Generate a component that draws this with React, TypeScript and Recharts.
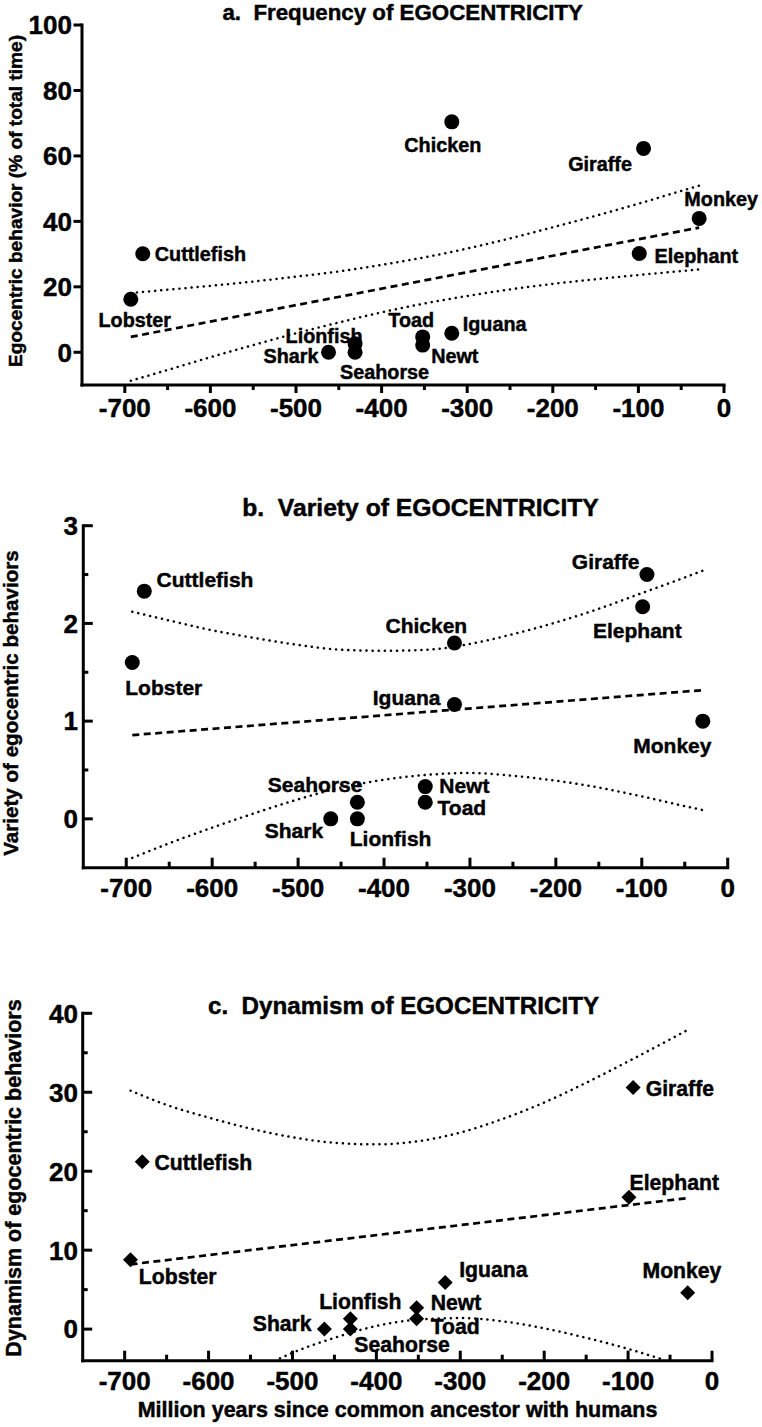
import React from 'react';
import { ComposedChart, XAxis, YAxis, Scatter, Line } from 'recharts';

const FONT = '"Liberation Sans", Arial, Helvetica, sans-serif';

// species and time since common ancestor with humans (million years)
const species = ['Lobster', 'Cuttlefish', 'Shark', 'Lionfish', 'Seahorse', 'Toad', 'Newt', 'Iguana', 'Chicken', 'Elephant', 'Giraffe', 'Monkey'];
const divergence = [-693, -679, -462, -431, -431, -352, -352, -318, -318, -99, -94, -29];

// a. frequency (% of total time), b. variety, c. dynamism (no chicken)
const frequency = [16.2, 30.1, 0, 2.6, 0, 4.7, 2.2, 5.8, 70.4, 30.2, 62.3, 40.9];
const variety = [1.6, 2.33, 0, 0, 0.17, 0.17, 0.33, 1.17, 1.8, 2.17, 2.5, 1.0];
const dynamism = [8.8, 21.2, 0, 1.3, 0, 1.3, 2.7, 5.9, null, 16.7, 30.6, 4.6];

// regression lines (end points) and confidence bands
const fitX = [-693, -29];
const freqFit = [4.7, 38.1];
const varFit = [0.857, 1.317];
const dynFit = [8.2, 16.6];

const bandX = [-693, -650, -600, -550, -500, -450, -400, -350, -300, -250, -200, -150, -100, -50, -29];
const freqUpper = [18.1, 19.1, 20.3, 21.6, 23.1, 24.7, 26.7, 29.0, 31.7, 34.8, 38.2, 41.7, 45.4, 49.3, 50.9];
const freqLower = [-8.7, -5.4, -1.5, 2.2, 5.8, 9.1, 12.2, 14.9, 17.2, 19.2, 20.9, 22.3, 23.6, 24.8, 25.3];
const varUpper = [2.12, 2.03, 1.93, 1.85, 1.78, 1.73, 1.72, 1.73, 1.79, 1.89, 2.01, 2.15, 2.31, 2.47, 2.54];
const varLower = [-0.4, -0.25, -0.09, 0.06, 0.2, 0.32, 0.4, 0.45, 0.47, 0.44, 0.39, 0.32, 0.23, 0.13, 0.09];
const dynUpper = [30.2, 28.4, 26.8, 25.4, 24.3, 23.6, 23.4, 23.8, 24.9, 26.6, 28.7, 31.2, 33.9, 36.7, 37.9];
// only the part of the lower band c that lies above the axis floor is visible
const dynLowerX = [-515, -500, -450, -400, -350, -300, -250, -200, -150, -100, -57];
const dynLower = [-3.7, -3.0, -1.1, 0.4, 1.2, 1.4, 1.0, 0.1, -1.1, -2.5, -3.9];

// ticks
const xTicks = [-700, -650, -600, -550, -500, -450, -400, -350, -300, -250, -200, -150, -100, -50, 0];
const freqTicks = [0, 20, 40, 60, 80, 100];
const varTicks = [0, 0.5, 1, 1.5, 2, 2.5, 3];
const dynTicks = [0, 5, 10, 15, 20, 25, 30, 35, 40];

// label placement next to each marker: [dx, dy, anchor]
type Place = [number, number, 'start' | 'middle' | 'end'];
const placeA: Record<string, Place> = {
  Cuttlefish: [12, 0, 'start'], Lobster: [4, 21, 'middle'], Lionfish: [-31, -8, 'middle'],
  Shark: [-10, 3.5, 'end'], Seahorse: [29.5, 19.5, 'middle'], Toad: [-11.5, -17.5, 'middle'],
  Newt: [8.5, 10.7, 'start'], Iguana: [11, -9.3, 'start'], Chicken: [-9, 23.3, 'middle'],
  Giraffe: [-11.6, 15.7, 'end'], Monkey: [22, -19.3, 'middle'], Elephant: [15.3, 2.5, 'start'],
};
const placeB: Record<string, Place> = {
  Cuttlefish: [12.3, -11.7, 'start'], Lobster: [31.5, 25, 'middle'], Seahorse: [-42.3, -17.7, 'middle'],
  Shark: [-7.6, 11.8, 'end'], Lionfish: [33.2, 19.3, 'middle'], Newt: [14, -1.5, 'start'],
  Toad: [12.3, 5.5, 'start'], Iguana: [-14, -6.8, 'end'], Chicken: [12.7, -17.7, 'end'],
  Giraffe: [-7.4, -13.2, 'end'], Elephant: [-5.3, 23.3, 'middle'], Monkey: [-30.4, 24.8, 'middle'],
};
const placeC: Record<string, Place> = {
  Cuttlefish: [12.3, 0.8, 'start'], Lobster: [8.3, 17, 'start'], Lionfish: [10, -17.6, 'middle'],
  Shark: [-12.7, -6, 'end'], Seahorse: [4, 15, 'start'], Newt: [14, -5.5, 'start'],
  Toad: [14, 7.2, 'start'], Iguana: [14, -12.7, 'start'], Giraffe: [12.6, 1, 'start'],
  Elephant: [0.6, -15.2, 'start'], Monkey: [-5.7, -22.7, 'middle'],
};

const points = (vals: (number | null)[]) =>
  species
    .map((name, i) => ({ name, x: divergence[i], y: vals[i] }))
    .filter((d) => d.y !== null);
const curve = (xs: number[], ys: number[]) => xs.map((x, i) => ({ x, y: ys[i] }));

const heavy = { stroke: '#000', strokeWidth: 0.45 };

function makeShape(place: Record<string, Place>, diamond: boolean, fontSize: number) {
  return (props: any) => {
    const { cx, cy, payload } = props;
    const p = place[payload.name];
    return (
      <g>
        {diamond ? (
          <polygon points={`${cx},${cy - 7.5} ${cx + 7.5},${cy} ${cx},${cy + 7.5} ${cx - 7.5},${cy}`} fill="#000" />
        ) : (
          <circle cx={cx} cy={cy} r={7.5} fill="#000" />
        )}
        <text x={cx + p[0]} y={cy + p[1]} dy="0.36em" textAnchor={p[2]} fontSize={fontSize}
          fontWeight="bold" fontFamily={FONT} fill="#000" {...heavy}>{payload.name}</text>
      </g>
    );
  };
}

function makeXTick(axisY: number, inward: boolean, baseline: number) {
  return (props: any) => {
    const { x, payload } = props;
    const major = payload.value % 100 === 0;
    const len = major ? (inward ? 10 : 8) : (inward ? 6 : 5);
    return (
      <g>
        <line x1={x} x2={x} y1={axisY} y2={axisY + (inward ? -len : len)} stroke="#000" strokeWidth={3} />
        {major && (
          <text x={x} y={axisY + baseline} textAnchor="middle" fontSize={26} fontWeight="bold"
            fontFamily={FONT} fill="#000" {...heavy}>{payload.value}</text>
        )}
      </g>
    );
  };
}

function makeYTick(axisX: number, inward: boolean, labelX: number, majorStep: number) {
  return (props: any) => {
    const { y, payload } = props;
    const major = Math.abs(payload.value / majorStep - Math.round(payload.value / majorStep)) < 1e-6;
    const len = major ? (inward ? 9.5 : 8.5) : 5;
    return (
      <g>
        <line x1={axisX} x2={axisX + (inward ? len : -len)} y1={y} y2={y} stroke="#000" strokeWidth={3} />
        {major && (
          <text x={labelX} y={y} dy="0.36em" textAnchor="end" fontSize={26} fontWeight="bold"
            fontFamily={FONT} fill="#000" {...heavy}>{payload.value}</text>
        )}
      </g>
    );
  };
}

const axisLine = { stroke: '#000', strokeWidth: 3, strokeLinecap: 'square' as const };

interface PanelProps {
  top: number;
  height: number;
  margin: { top: number; right: number; left: number; bottom: number };
  yWidth: number;
  xHeight: number;
  inward: boolean;
  xBaseline: number;
  yLabelX: number;
  yDomain: [number, number];
  yTicks: number[];
  yMajor: number;
  data: any[];
  fit: number[];
  upper: { x: number; y: number }[];
  lower: { x: number; y: number }[];
  place: Record<string, Place>;
  diamond: boolean;
  labelSize: number;
}

function Panel(p: PanelProps) {
  const axisY = p.height - p.xHeight - p.margin.bottom;
  const axisX = p.yWidth + p.margin.left;
  return (
    <div style={{ position: 'absolute', left: 0, top: p.top }}>
      <ComposedChart width={762} height={p.height} margin={p.margin}>
        <XAxis type="number" dataKey="x" domain={[-750, 0]} ticks={xTicks} interval={0}
          height={p.xHeight} tickLine={false} axisLine={axisLine} tick={makeXTick(axisY, p.inward, p.xBaseline)} />
        <YAxis type="number" dataKey="y" domain={p.yDomain} ticks={p.yTicks} interval={0}
          width={p.yWidth} tickLine={false} axisLine={axisLine} tick={makeYTick(axisX, p.inward, p.yLabelX, p.yMajor)} />
        <Line data={p.upper} dataKey="y" type="monotone" dot={false} stroke="#000" strokeWidth={2.5}
          strokeDasharray="0.1 6" strokeLinecap="round" isAnimationActive={false} />
        <Line data={p.lower} dataKey="y" type="monotone" dot={false} stroke="#000" strokeWidth={2.5}
          strokeDasharray="0.1 6" strokeLinecap="round" isAnimationActive={false} />
        <Line data={curve(fitX, p.fit)} dataKey="y" type="linear" dot={false} stroke="#000" strokeWidth={2.7}
          strokeDasharray="7 4.5" isAnimationActive={false} />
        <Scatter data={p.data} dataKey="y" shape={makeShape(p.place, p.diamond, p.labelSize)} isAnimationActive={false} />
      </ComposedChart>
    </div>
  );
}

const textStyle = (x: number, y: number, size: number, rotate = false): React.CSSProperties => ({
  position: 'absolute',
  left: x,
  top: y,
  transform: `translate(-50%, -50%)${rotate ? ' rotate(-90deg)' : ''}`,
  fontFamily: FONT,
  fontWeight: 'bold',
  fontSize: size,
  lineHeight: 1,
  whiteSpace: 'pre',
  color: '#000',
  WebkitTextStroke: '0.45px #000',
});

export default function App() {
  return (
    <div style={{ position: 'absolute', left: 0, top: 0, width: 762, height: 1427, background: '#fff', overflow: 'hidden' }}>
      <Panel top={0} height={430} margin={{ top: 25, right: 38, left: 0, bottom: 0 }} yWidth={82} xHeight={45}
        inward={false} xBaseline={31.5} yLabelX={72} yDomain={[-10, 100]} yTicks={freqTicks} yMajor={20}
        data={points(frequency)} fit={freqFit} upper={curve(bandX, freqUpper)} lower={curve(bandX, freqLower)}
        place={placeA} diamond={false} labelSize={19.8} />
      <Panel top={480} height={430} margin={{ top: 45.7, right: 34.3, left: 0, bottom: 0 }} yWidth={83.3} xHeight={42.3}
        inward={true} xBaseline={29} yLabelX={78} yDomain={[-0.5, 3]} yTicks={varTicks} yMajor={1}
        data={points(variety)} fit={varFit} upper={curve(bandX, varUpper)} lower={curve(bandX, varLower)}
        place={placeB} diamond={false} labelSize={21} />
      <Panel top={960} height={440} margin={{ top: 53.3, right: 50, left: 0, bottom: 0 }} yWidth={82.7} xHeight={39.3}
        inward={true} xBaseline={29.3} yLabelX={78} yDomain={[-4, 40]} yTicks={dynTicks} yMajor={10}
        data={points(dynamism)} fit={dynFit} upper={curve(bandX, dynUpper)} lower={curve(dynLowerX, dynLower)}
        place={placeC} diamond={true} labelSize={21.2} />

      <div style={textStyle(402.7, 12.5, 22.3)}>{'a.  Frequency of EGOCENTRICITY'}</div>
      <div style={textStyle(420.5, 507.5, 24.7)}>{'b.  Variety of EGOCENTRICITY'}</div>
      <div style={textStyle(403.5, 1005.8, 24.2)}>{'c.  Dynamism of EGOCENTRICITY'}</div>

      <div style={textStyle(15.7, 201, 19.1, true)}>Egocentric behavior (% of total time)</div>
      <div style={textStyle(11.1, 703.3, 20.6, true)}>Variety of egocentric behaviors</div>
      <div style={textStyle(15, 1178.3, 21.5, true)}>Dynamism of egocentric behaviors</div>
      <div style={textStyle(397.5, 1411.3, 21.5)}>Million years since common ancestor with humans</div>
    </div>
  );
}
